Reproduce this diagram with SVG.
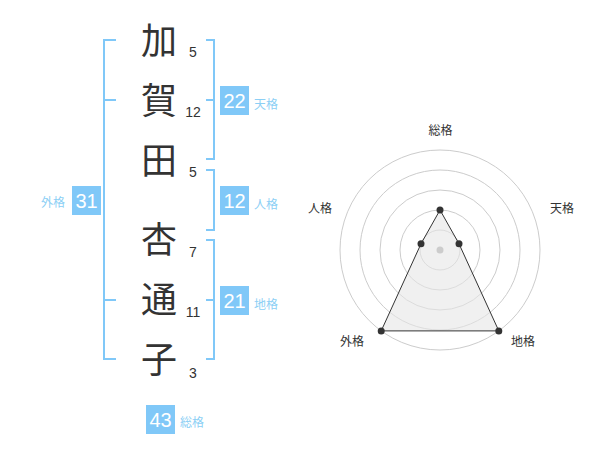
<svg xmlns="http://www.w3.org/2000/svg" width="600" height="470" viewBox="0 0 600 470">
<style>
.k{font-family:"Noto Sans CJK JP","Noto Sans CJK SC",sans-serif;font-size:36px;fill:#333;text-anchor:middle}
.n{font-family:"Liberation Sans",Arial,sans-serif;font-size:14px;fill:#333;text-anchor:middle}
.br{fill:none;stroke:#80c8f8;stroke-width:2}
.box{fill:#80c8f8}
.bt{font-family:"Liberation Sans",Arial,sans-serif;font-size:20px;fill:#fff;text-anchor:middle}
.bl{font-family:"Noto Sans CJK JP","Noto Sans CJK SC",sans-serif;font-size:12px;fill:#8ccff5}
.ring{fill:none;stroke:#ccc;stroke-width:1}
.rl{font-family:"Noto Sans CJK JP","Noto Sans CJK SC",sans-serif;font-size:12px;fill:#333;text-anchor:middle}
.dot{fill:#333}
</style>
<g id="name">
<text class="k" x="159" y="54">加</text>
<text class="k" x="159" y="114">賀</text>
<text class="k" x="159" y="174">田</text>
<text class="k" x="159" y="253">杏</text>
<text class="k" x="159" y="313">通</text>
<text class="k" x="159" y="373">子</text>
<text class="n" x="193" y="57">5</text>
<text class="n" x="193" y="117">12</text>
<text class="n" x="193" y="177">5</text>
<text class="n" x="193" y="257">7</text>
<text class="n" x="193" y="317">11</text>
<text class="n" x="193" y="378">3</text>
</g>
<g id="connectors">
<path class="br" d="M206,40 H214 V159 H206 M206,100 H214"/>
<path class="br" d="M206,170 H214 V230 H206"/>
<path class="br" d="M206,240 H214 V359 H206 M206,300 H214"/>
<path class="br" d="M116,40 H104 V359 H116 M104,100 H116 M104,300 H116"/>
</g>
<g id="tenkaku">
<rect class="box" x="220" y="86" width="29" height="29"/>
<text class="bt" x="234.5" y="108">22</text>
<text class="bl" x="254" y="109">天格</text>
</g>
<g id="jinkaku">
<rect class="box" x="220" y="186" width="29" height="29"/>
<text class="bt" x="234.5" y="208">12</text>
<text class="bl" x="254" y="209">人格</text>
</g>
<g id="chikaku">
<rect class="box" x="220" y="286" width="29" height="29"/>
<text class="bt" x="234.5" y="308">21</text>
<text class="bl" x="254" y="309">地格</text>
</g>
<g id="gaikaku">
<rect class="box" x="72" y="186" width="29" height="29"/>
<text class="bt" x="86.5" y="208">31</text>
<text class="bl" x="41" y="207">外格</text>
</g>
<g id="soukaku">
<rect class="box" x="146" y="405" width="29" height="29"/>
<text class="bt" x="160.5" y="427">43</text>
<text class="bl" x="180" y="427">総格</text>
</g>
<g id="radar">
<circle class="ring" cx="440" cy="250" r="20"/>
<circle class="ring" cx="440" cy="250" r="40"/>
<circle class="ring" cx="440" cy="250" r="60"/>
<circle class="ring" cx="440" cy="250" r="80"/>
<circle class="ring" cx="440" cy="250" r="100"/>
<polygon points="440,210 459,243.8 498.8,330.9 381.2,330.9 421,243.8" fill="#e6e6e6" fill-opacity="0.6" stroke="#333" stroke-width="1"/>
<circle cx="440" cy="250" r="3.5" fill="#ccc"/>
<circle class="dot" cx="440" cy="210" r="3.5"/>
<circle class="dot" cx="459" cy="243.8" r="3.5"/>
<circle class="dot" cx="498.8" cy="330.9" r="3.5"/>
<circle class="dot" cx="381.2" cy="330.9" r="3.5"/>
<circle class="dot" cx="421" cy="243.8" r="3.5"/>
<text class="rl" x="440.5" y="135">総格</text>
<text class="rl" x="562" y="213">天格</text>
<text class="rl" x="523" y="346">地格</text>
<text class="rl" x="352" y="346">外格</text>
<text class="rl" x="320" y="213">人格</text>
</g>
</svg>
